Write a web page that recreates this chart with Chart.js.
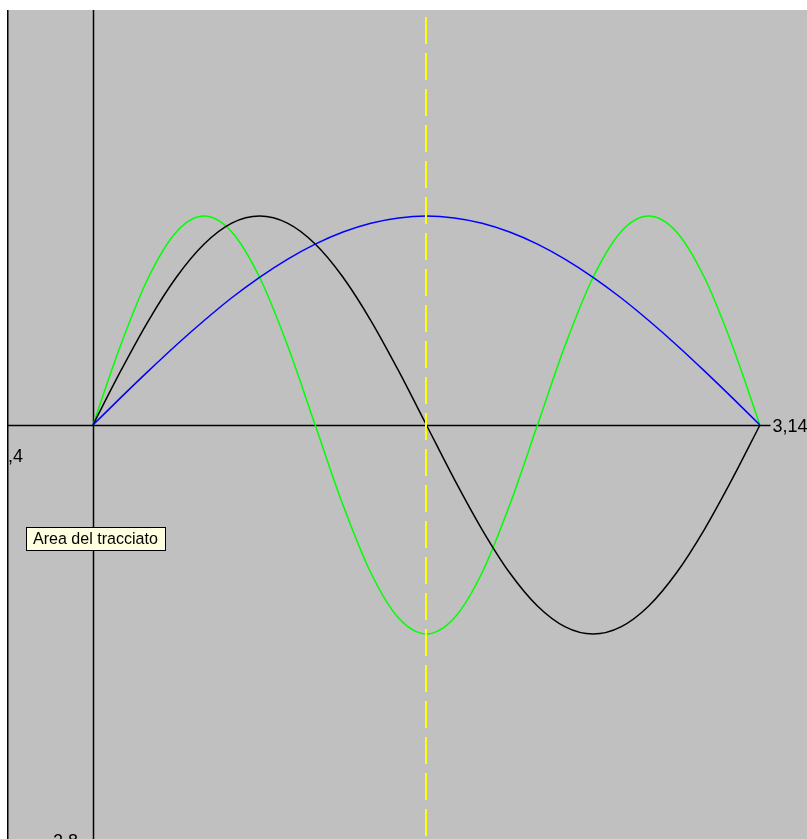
<!DOCTYPE html>
<html>
<head>
<meta charset="utf-8">
<script src="https://cdn.jsdelivr.net/npm/chart.js@4"></script>
<style>
  html, body { margin: 0; padding: 0; background: #ffffff; }
  #wrap { width: 807px; height: 839px; overflow: hidden; }
</style>
</head>
<body>
<div id="wrap"><canvas id="plot" width="807" height="839"></canvas></div>
<script>
const xValues = [0, 0.131, 0.262, 0.393, 0.524, 0.654, 0.785, 0.916, 1.047, 1.178, 1.309, 1.440, 1.571,
                 1.702, 1.833, 1.963, 2.094, 2.225, 2.356, 2.487, 2.618, 2.749, 2.880, 3.011, 3.142];
const blueValues = [0, 0.131, 0.259, 0.383, 0.5, 0.609, 0.707, 0.793, 0.866, 0.924, 0.966, 0.991, 1,
                    0.991, 0.966, 0.924, 0.866, 0.793, 0.707, 0.609, 0.5, 0.383, 0.259, 0.131, 0];
const blackValues = [0, 0.259, 0.5, 0.707, 0.866, 0.966, 1, 0.966, 0.866, 0.707, 0.5, 0.259, 0,
                     -0.259, -0.5, -0.707, -0.866, -0.966, -1, -0.966, -0.866, -0.707, -0.5, -0.259, 0];
const greenValues = [0, 0.383, 0.707, 0.924, 1, 0.924, 0.707, 0.383, 0, -0.383, -0.707, -0.924, -1,
                     -0.924, -0.707, -0.383, 0, 0.383, 0.707, 0.924, 1, 0.924, 0.707, 0.383, 0];
const markerX = 1.571;
const tickLabels = ["-0,4", "3,14", "-2,8"];
const tooltipText = "Area del tracciato";

function points(ys) {
    return xValues.map((x, i) => ({ x: x, y: ys[i] }));
}

function series(ys, color) {
    return {
        data: points(ys),
        borderColor: color,
        borderWidth: 1.5,
        pointRadius: 0,
        showLine: true,
        fill: false,
        cubicInterpolationMode: "monotone"
    };
}

const plotArea = {
    id: "plotArea",
    beforeDraw(chart) {
        const ctx = chart.ctx, a = chart.chartArea;
        ctx.save();
        ctx.fillStyle = "#c0c0c0";
        ctx.fillRect(a.left, a.top, a.right - a.left, a.bottom - a.top);
        ctx.fillStyle = "#000000";
        ctx.fillRect(a.left - 1, a.top, 1.5, a.bottom - a.top);
        ctx.restore();
    },
    beforeDatasetsDraw(chart) {
        const ctx = chart.ctx, a = chart.chartArea;
        const x0 = Math.round(chart.scales.x.getPixelForValue(0)) + 0.5;
        const y0 = Math.round(chart.scales.y.getPixelForValue(0)) + 0.5;
        ctx.save();
        ctx.strokeStyle = "#000000";
        ctx.lineWidth = 1.5;
        ctx.beginPath();
        ctx.moveTo(x0, a.top);
        ctx.lineTo(x0, a.bottom);
        ctx.moveTo(a.left, y0);
        ctx.lineTo(a.right, y0);
        ctx.stroke();
        ctx.restore();
    },
    afterDatasetsDraw(chart) {
        const ctx = chart.ctx, a = chart.chartArea;
        const xm = Math.round(chart.scales.x.getPixelForValue(markerX));
        ctx.save();
        ctx.strokeStyle = "#ffff00";
        ctx.lineWidth = 2;
        ctx.setLineDash([27, 9]);
        ctx.lineDashOffset = 29;
        ctx.beginPath();
        ctx.moveTo(xm, a.top);
        ctx.lineTo(xm, a.bottom);
        ctx.stroke();
        ctx.restore();
    },
    afterDraw(chart) {
        const ctx = chart.ctx, a = chart.chartArea;
        const sx = chart.scales.x, sy = chart.scales.y;
        const x0 = sx.getPixelForValue(0);
        const y0 = sy.getPixelForValue(0);
        ctx.save();
        ctx.beginPath();
        ctx.rect(a.left, a.top, a.right - a.left, a.bottom - a.top);
        ctx.clip();
        ctx.font = "18px 'Liberation Sans', Arial, sans-serif";
        ctx.fillStyle = "#000000";
        ctx.textBaseline = "alphabetic";

        // x min label, right edge a little to the right of the left border
        ctx.textAlign = "right";
        ctx.fillText(tickLabels[0], a.left + 15, y0 + 37);

        // x max label sits on the axis with its own gray backing
        const xr = sx.getPixelForValue(3.14) + 13;
        ctx.textAlign = "left";
        const w = ctx.measureText(tickLabels[1]).width;
        ctx.fillStyle = "#c0c0c0";
        ctx.fillRect(xr - 2, y0 - 9, w + 4, 18);
        ctx.fillStyle = "#000000";
        ctx.fillText(tickLabels[1], xr, y0 + 7);

        // y min label at the bottom, mostly cut off
        ctx.textAlign = "right";
        ctx.fillText(tickLabels[2], x0 - 15, a.bottom + 8);

        // the tooltip box
        let size = 15;
        ctx.font = size + "px 'Liberation Sans', Arial, sans-serif";
        const tw = ctx.measureText(tooltipText).width;
        size = size * 125 / tw;
        ctx.font = size.toFixed(2) + "px 'Liberation Sans', Arial, sans-serif";
        ctx.fillStyle = "#ffffe1";
        ctx.fillRect(26, 527, 139, 23);
        ctx.strokeStyle = "#000000";
        ctx.lineWidth = 1;
        ctx.strokeRect(26.5, 527.5, 139, 23);
        ctx.fillStyle = "#000000";
        ctx.textAlign = "left";
        ctx.fillText(tooltipText, 33, 544);
        ctx.restore();
    }
};

new Chart(document.getElementById("plot"), {
    type: "scatter",
    data: {
        datasets: [
            series(blueValues, "#0000ff"),
            series(blackValues, "#000000"),
            series(greenValues, "#00ff00")
        ]
    },
    options: {
        responsive: false,
        animation: false,
        layout: { padding: { left: 8, top: 10, right: 0, bottom: 0 } },
        plugins: { legend: { display: false }, tooltip: { enabled: false } },
        scales: {
            x: { type: "linear", min: -0.4, max: 3.3636, display: false },
            y: { type: "linear", min: -1.981, max: 1.986, display: false }
        }
    },
    plugins: [plotArea]
});
</script>
</body>
</html>
